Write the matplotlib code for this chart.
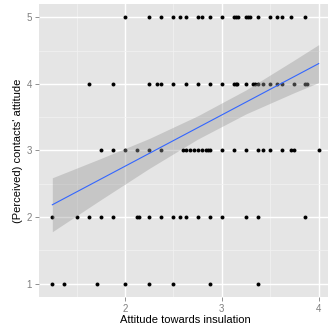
import numpy as np
import matplotlib
matplotlib.use("Agg")
import matplotlib.pyplot as plt
from matplotlib.ticker import MultipleLocator

plt.rcParams['font.family'] = ['Liberation Sans', 'DejaVu Sans']

# Attitude towards insulation (x) for each level of perceived contacts' attitude (y)
att_5 = [2.0, 2.25, 2.375, 2.5, 2.571, 2.625, 2.75, 2.8, 2.875, 3.0, 3.125, 3.143,
         3.167, 3.25, 3.267, 3.286, 3.375, 3.5, 3.571, 3.625, 3.714, 3.857]
att_4 = [1.625, 1.875, 2.25, 2.333, 2.375, 2.5, 2.625, 2.75, 2.875, 3.0, 3.125, 3.143,
         3.154, 3.25, 3.325, 3.343, 3.375, 3.429, 3.5, 3.571, 3.625, 3.75, 3.857, 3.875]
att_3 = [1.75, 1.875, 2.0, 2.125, 2.25, 2.375, 2.6, 2.625, 2.667, 2.714, 2.75, 2.8,
         2.833, 2.857, 2.875, 3.0, 3.125, 3.25, 3.375, 3.429, 3.5, 3.625, 3.714, 3.75, 4.0]
att_2 = [1.25, 1.5, 1.625, 1.75, 1.875, 2.125, 2.143, 2.25, 2.375, 2.5, 2.571, 2.625,
         2.75, 2.875, 3.0, 3.25, 3.375, 3.857]
att_1 = [1.25, 1.375, 1.714, 2.0, 2.25, 2.5, 2.875, 3.375]

contact_levels = [5, 4, 3, 2, 1]
x_ticks = [2, 3, 4]
y_ticks = [1, 2, 3, 4, 5]

# Linear trend and its 95% confidence band
trend_x = [1.25, 4.0]
trend_y = [2.185, 4.305]
band_x = [1.25, 1.75, 2.25, 2.75, 3.25, 3.75, 4.0]
band_lo = [1.78, 2.26, 2.73, 3.17, 3.55, 3.87, 4.02]
band_hi = [2.59, 2.88, 3.18, 3.52, 3.91, 4.36, 4.59]

groups = [att_5, att_4, att_3, att_2, att_1]
x = np.concatenate([np.asarray(g, float) for g in groups])
y = np.concatenate([np.full(len(g), lvl, float) for g, lvl in zip(groups, contact_levels)])

W, H = 328, 333
fig = plt.figure(figsize=(W / 100, H / 100), dpi=100)
ax = fig.add_axes([39 / W, 1 - 297 / H, (332 - 39) / W, (297 - 4) / H])
ax.set_facecolor('#E5E5E5')
for sp in ax.spines.values():
    sp.set_visible(False)

rng_x = x.max() - x.min()
ax.set_xlim(x.min() - 0.05 * rng_x, x.max() + 0.05 * rng_x)
ax.set_ylim(0.8, 5.2)

ax.set_xticks(x_ticks)
ax.set_yticks(y_ticks)
ax.xaxis.set_minor_locator(MultipleLocator(0.5))
ax.yaxis.set_minor_locator(MultipleLocator(0.5))
ax.grid(which='major', color='white', linewidth=1.0)
ax.grid(which='minor', color='#F2F2F2', linewidth=0.5)
ax.set_axisbelow(True)
ax.tick_params(which='major', length=3, width=0.6, color='#7F7F7F',
               labelcolor='#7F7F7F', labelsize=7, pad=2)
ax.tick_params(which='minor', length=0)

ax.scatter(x, y, s=8, color='black', linewidths=0, zorder=2)
ax.fill_between(band_x, band_lo, band_hi, color='#999999', alpha=0.4,
                linewidth=0, zorder=3)
ax.plot(trend_x, trend_y, color='#3366FF', linewidth=0.8, zorder=4)

ax.set_xlabel('Attitude towards insulation', fontsize=8, labelpad=1)
ax.set_ylabel("(Perceived) contacts' attitude", fontsize=8, labelpad=3)

fig.savefig('out.png', dpi=100)
